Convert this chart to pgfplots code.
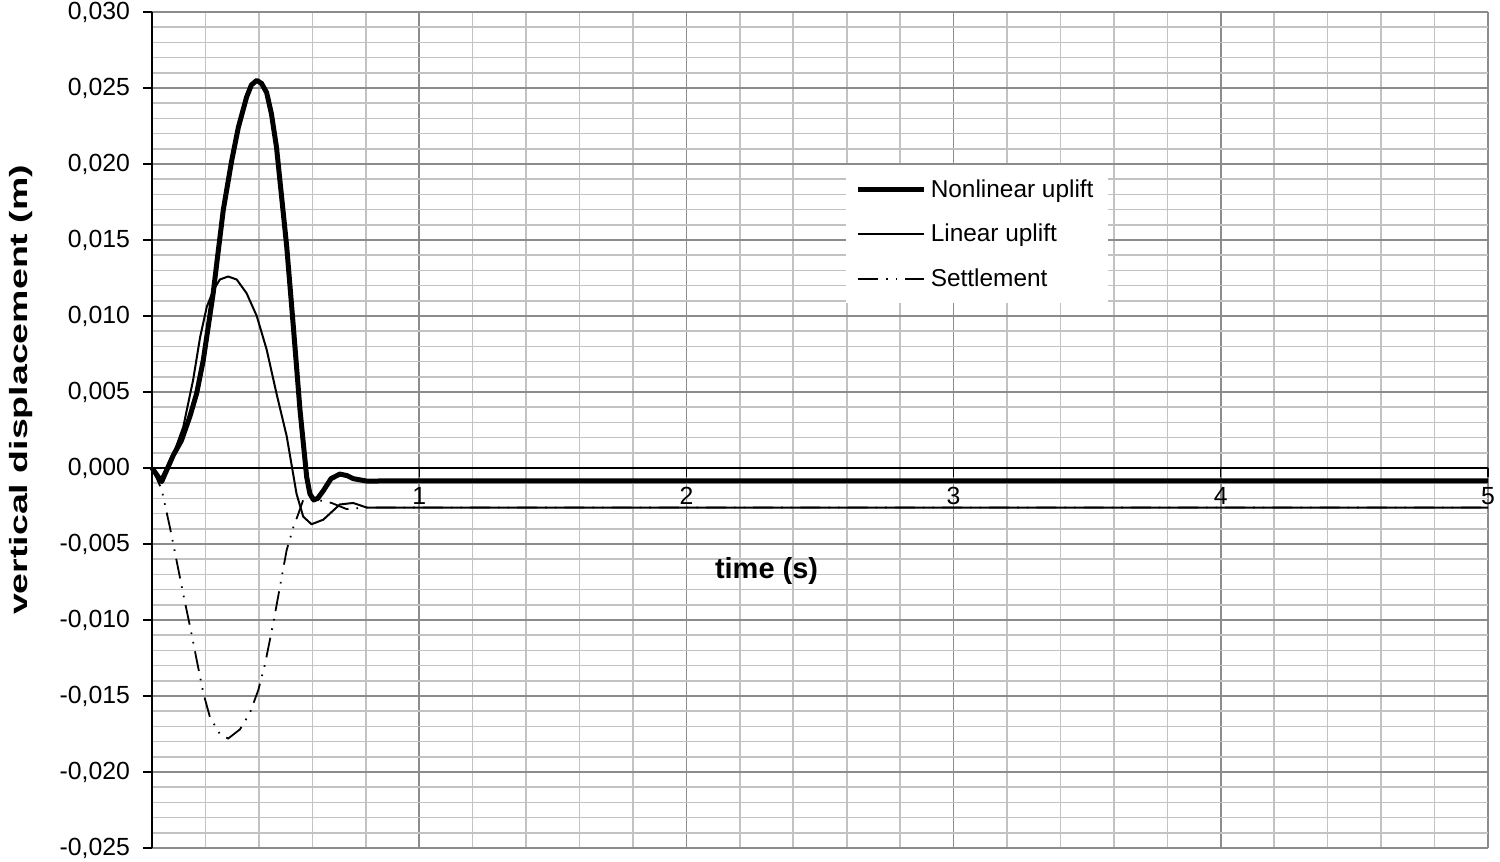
\documentclass[border=0pt]{standalone}
\usepackage{pgfplots}
\pgfplotsset{compat=1.18}
\usepackage{fontspec}
\setmainfont{Liberation Sans}
\usetikzlibrary{calc}

\pgfplotstableread{
t y
0.000 0.0000
0.036 -0.0009
0.080 0.00085
0.110 0.0018
0.142 0.0034
0.167 0.0049
0.192 0.0071
0.229 0.0115
0.244 0.0137
0.267 0.0170
0.298 0.0202
0.323 0.0224
0.354 0.0244
0.372 0.0252
0.392 0.0255
0.410 0.0253
0.429 0.0247
0.447 0.0233
0.466 0.0211
0.504 0.0146
0.529 0.0093
0.554 0.0038
0.579 -0.0006
0.591 -0.0017
0.605 -0.0021
0.620 -0.0020
0.641 -0.0015
0.670 -0.0007
0.703 -0.0004
0.730 -0.0005
0.753 -0.0007
0.803 -0.00086
0.900 -0.00085
5.000 -0.00085
}\nonlin

\pgfplotstableread{
t y
0.000 0.0000
0.030 -0.0008
0.080 0.0009
0.117 0.0027
0.154 0.0058
0.180 0.0086
0.205 0.0106
0.230 0.0117
0.254 0.0124
0.285 0.0126
0.317 0.0124
0.354 0.0115
0.392 0.0100
0.429 0.0078
0.466 0.0049
0.504 0.0021
0.541 -0.0017
0.566 -0.0032
0.597 -0.0037
0.641 -0.0034
0.703 -0.0024
0.753 -0.0023
0.803 -0.0026
0.900 -0.0026
5.000 -0.0026
}\lin

\pgfplotstableread{
t y
0.000 0.0000
0.036 -0.0014
0.067 -0.0039
0.092 -0.0061
0.117 -0.0083
0.142 -0.0104
0.167 -0.0126
0.192 -0.0148
0.217 -0.0164
0.254 -0.0175
0.285 -0.0178
0.329 -0.0172
0.367 -0.0161
0.398 -0.0146
0.423 -0.0129
0.454 -0.0102
0.479 -0.0078
0.504 -0.0054
0.529 -0.0039
0.548 -0.0030
0.566 -0.0021
0.620 -0.0021
0.672 -0.0023
0.728 -0.0027
0.800 -0.0026
5.000 -0.0026
}\settle

\begin{document}
\begin{tikzpicture}
\begin{axis}[
  scale only axis,
  width=668pt, height=418pt,
  xmin=0, xmax=5, ymin=-0.025, ymax=0.030,
  axis x line=middle, axis y line=left,
  x axis line style={-, black, line width=0.6pt},
  y axis line style={-, black, line width=1.1pt},
  xtick={0,1,2,3,4,5},
  minor x tick num=4,
  ytick={-0.025,-0.02,-0.015,-0.01,-0.005,0,0.005,0.01,0.015,0.02,0.025,0.03},
  minor y tick num=4,
  scaled y ticks=false,
  tick align=outside,
  major tick length=4.5pt,
  minor tick length=0pt,
  tick style={black, line width=0.6pt},
  grid=both,
  major grid style={draw=black!45, line width=0.8pt},
  minor grid style={draw=black!24, line width=0.8pt},
  yticklabel style={xshift=-3pt, /pgf/number format/.cd, fixed, fixed zerofill, precision=3, use comma, assume math mode=true},
  xticklabel style={yshift=-1.5pt, /pgf/number format/assume math mode=true},
  ticklabel style={font=\fontsize{12.4}{14}\selectfont},
  xlabel={\textbf{time (s)}},
  xlabel style={at={(rel axis cs:0.46,0.331)}, anchor=center, font=\fontsize{14.5}{16}\selectfont},
  ylabel={\scalebox{1.5}[1]{\textbf{vertical displacement (m)}}},
  ylabel style={at={(rel axis cs:0,0.548)}, anchor=center, yshift=65.5pt, font=\fontsize{12.5}{14}\selectfont},
  legend style={at={(rel axis cs:0.519,0.817)}, anchor=north west, draw=none, fill=white,
    font=\fontsize{12.2}{14}\selectfont, inner xsep=5pt, inner ysep=5pt, row sep=8pt,
    /tikz/every even column/.append style={column sep=6pt}},
  legend cell align=left,
  legend image code/.code={\draw[#1] (0pt,0pt) -- (33pt,0pt);},
  clip=false,
]
\addplot[black, line width=2.5pt, line join=round] table[x=t,y=y] {\nonlin};
\addlegendentry{Nonlinear uplift}
\addplot[black, line width=1pt, line join=round] table[x=t,y=y] {\lin};
\addlegendentry{Linear uplift}
\addplot[black, line width=0.9pt, dash pattern=on 10pt off 4pt on 0.8pt off 4pt on 0.8pt off 4pt] table[x=t,y=y] {\settle};
\addlegendentry{Settlement}
\coordinate (SW) at (rel axis cs:0,0);
\coordinate (NE) at (rel axis cs:1,1);
\end{axis}
\pgfresetboundingbox
\path[use as bounding box] ($(SW)+(-76pt,-7pt)$) rectangle ($(NE)+(6pt,6pt)$);
\end{tikzpicture}
\end{document}
